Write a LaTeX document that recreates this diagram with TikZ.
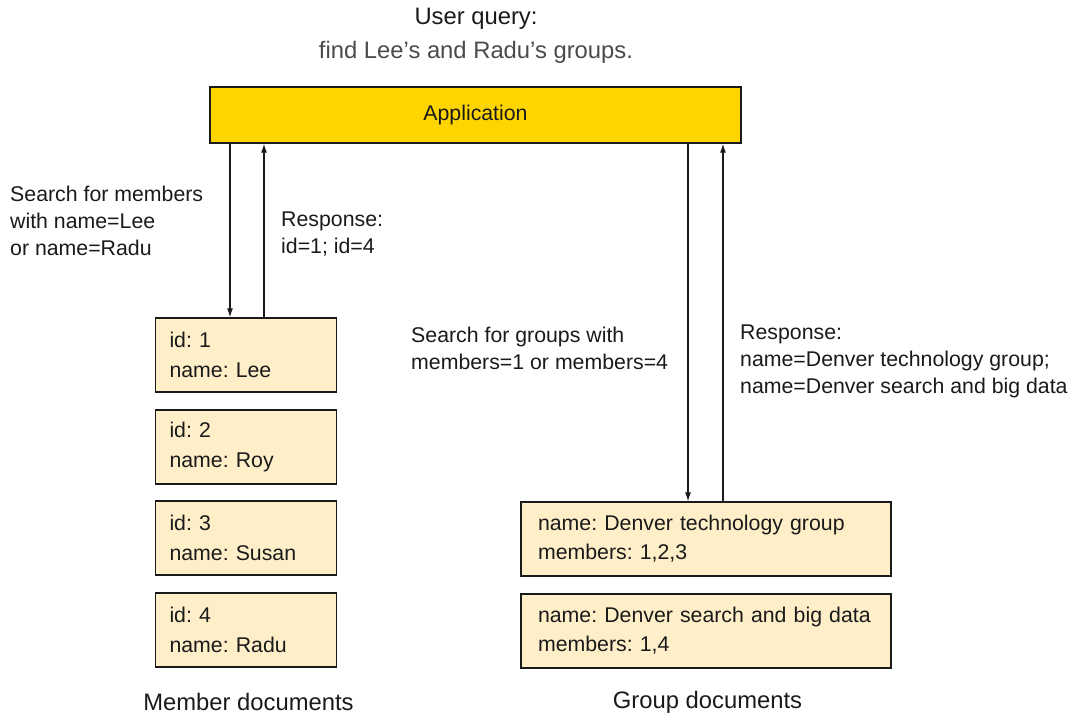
\documentclass[tikz,border=0pt]{standalone}
\usepackage{fontspec}
\setmainfont{Liberation Sans}
\usetikzlibrary{arrows.meta}
\definecolor{appfill}{HTML}{FFD500}
\definecolor{docfill}{HTML}{FEEFC9}
\definecolor{ink}{HTML}{1A1A1A}
\definecolor{softink}{HTML}{4A4A4A}
\frenchspacing
\begin{document}
\begin{tikzpicture}[x=1pt,y=-1pt,
  every node/.style={font=\fontsize{21.3}{27}\selectfont, text=ink},
  bigtxt/.style={font=\fontsize{23.8}{30}\selectfont},
  appbox/.style={draw=ink, line width=1.4pt, fill=appfill, minimum width=531pt, minimum height=56pt, inner sep=0pt},
  memberbox/.style={draw=ink, line width=1.3pt, fill=docfill, minimum height=74pt, text width=153pt, inner xsep=14pt, inner ysep=0pt, align=left, font=\fontsize{21.3}{29.5}\selectfont},
  groupbox/.style={draw=ink, line width=1.3pt, fill=docfill, minimum height=74pt, text width=336pt, inner xsep=17pt, inner ysep=0pt, align=left, font=\fontsize{21.3}{29}\selectfont},
  lbl/.style={anchor=west, inner sep=0pt, align=left},
  arr/.style={draw=ink, line width=1.2pt, -{Latex[length=9pt,width=6pt]}}
]
\useasboundingbox (0,0) rectangle (1075,715);
% title
\node[bigtxt] (t1) at (476,19) {User query:};
\node[bigtxt, text=softink] (t2) at (476,52) {find Lee’s and Radu’s groups.};
% application
\node[appbox] (app) at (475.5,115) {Application};
% member documents
\node[memberbox] (m1) at (246,355) {id: 1\\name: Lee};
\node[memberbox] (m2) at (246,447) {id: 2\\name: Roy};
\node[memberbox] (m3) at (246,538) {id: 3\\name: Susan};
\node[memberbox] (m4) at (246,630) {id: 4\\name: Radu};
% group documents
\node[groupbox] (g1) at (706,539) {name: Denver technology group\\members: 1,2,3};
\node[groupbox] (g2) at (706,631) {name: Denver search and big data\\members: 1,4};
% captions
\node[bigtxt] (mc) at (248.5,702) {Member documents};
\node[bigtxt] (gc) at (707.5,702) {Group documents};
% arrow positions
\coordinate (xa) at (230,0);
\coordinate (xb) at (264,0);
\coordinate (xc) at (688,0);
\coordinate (xd) at (723,0);
\draw[arr] (app.south -| xa) -- (m1.north -| xa);
\draw[arr] (m1.north -| xb) -- (app.south -| xb);
\draw[arr] (app.south -| xc) -- (g1.north -| xc);
\draw[arr] (g1.north -| xd) -- (app.south -| xd);
% labels
\node[lbl] (l1) at (10,221) {Search for members\\with name=Lee\\or name=Radu};
\node[lbl] (l2) at (281,234) {Response:\\id=1; id=4};
\node[lbl] (l3) at (411,348) {Search for groups with\\members=1 or members=4};
\node[lbl] (l4) at (740,361) {Response:\\name=Denver technology group;\\name=Denver search and big data};
\end{tikzpicture}
\end{document}
